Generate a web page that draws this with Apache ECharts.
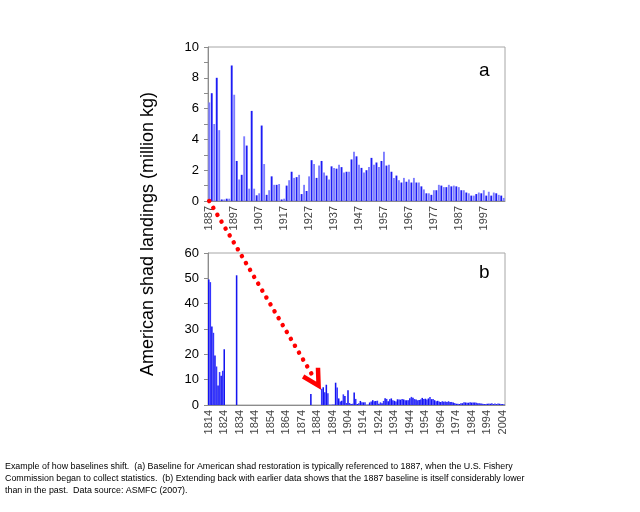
<!DOCTYPE html>
<html>
<head>
<meta charset="utf-8">
<script src="https://cdn.jsdelivr.net/npm/echarts@6/dist/echarts.min.js"></script>
<style>
  html, body { margin: 0; padding: 0; background: #fff; }
  #main { width: 640px; height: 512px; }
</style>
</head>
<body>
<div id="main"></div>
<script>
// landings, million kg, 1887-2005 (panel a, and tail of panel b)
var landings1887 = [
  6.4, 7.0, 5.0, 8.0, 4.6, 0.1, 0.1, 0.15, 0.15, 8.8,
  6.9, 2.6, 1.4, 1.7, 4.2, 3.6, 0.8, 5.85, 0.8, 0.37,
  0.5, 4.9, 2.4, 0.4, 0.7, 1.6, 1.05, 1.05, 1.1, 0.1,
  0.15, 1.0, 1.35, 1.9, 1.5, 1.55, 1.7, 0.45, 1.05, 0.65,
  1.6, 2.65, 2.4, 1.5, 2.3, 2.6, 1.85, 1.65, 1.4, 2.25,
  2.15, 2.1, 2.35, 2.2, 1.85, 1.9, 1.9, 2.7, 3.2, 2.9,
  2.35, 2.15, 1.85, 2.0, 2.2, 2.8, 2.35, 2.5, 2.2, 2.6,
  3.2, 2.3, 2.35, 1.9, 1.5, 1.65, 1.35, 1.2, 1.5, 1.25,
  1.4, 1.2, 1.5, 1.2, 1.2, 0.95, 0.75, 0.5, 0.5, 0.4,
  0.7, 0.7, 1.05, 1.0, 0.9, 0.9, 1.05, 0.95, 1.0, 0.95,
  0.9, 0.7, 0.7, 0.55, 0.5, 0.35, 0.35, 0.45, 0.55, 0.5,
  0.7, 0.35, 0.6, 0.35, 0.55, 0.5, 0.4, 0.35, 0.2
];
// earlier records, 1814-1824
var landings1814 = [49.5, 48.5, 31, 28.5, 19.5, 15.2, 7.7, 13, 11.5, 13.5, 22];
// isolated earlier years
var extraYears = [1832, 1880];
var extraValues = [51.2, 4.35];

var firstA = 1887, firstB = 1814, lastYear = 2005;
var yearsA = [], yearsB = [];
for (var y = firstA; y <= lastYear; y++) yearsA.push(String(y));
for (var y2 = firstB; y2 <= lastYear; y2++) yearsB.push(String(y2));

var seriesB = yearsB.map(function () { return null; });
landings1814.forEach(function (v, i) { seriesB[i] = v; });
extraYears.forEach(function (yr, i) { seriesB[yr - firstB] = extraValues[i]; });
landings1887.forEach(function (v, i) { seriesB[firstA - firstB + i] = v; });

var chart = echarts.init(document.getElementById('main'));

var axisGray = '#8c8c8c';
var labelFont = 'Liberation Sans';

function barColor(p) {
  return p.dataIndex % 2 ? '#1c1cf5' : '#7d7dff';
}

var option = {
  backgroundColor: '#fff',
  animation: false,
  grid: [
    { left: 208, top: 47, width: 297, height: 154, show: true, borderColor: '#a6a6a6', borderWidth: 1 },
    { left: 208, top: 253, width: 297, height: 152, show: true, borderColor: '#a6a6a6', borderWidth: 1 }
  ],
  xAxis: [
    {
      type: 'category', gridIndex: 0, data: yearsA,
      axisLine: { lineStyle: { color: axisGray } },
      axisTick: { alignWithLabel: true, interval: 9, length: 3, lineStyle: { color: axisGray } },
      axisLabel: { interval: 9, rotate: 90, fontSize: 11, color: '#444', fontFamily: labelFont, margin: 5 }
    },
    {
      type: 'category', gridIndex: 1, data: yearsB,
      axisLine: { lineStyle: { color: axisGray } },
      axisTick: { alignWithLabel: true, interval: 9, length: 3, lineStyle: { color: axisGray } },
      axisLabel: { interval: 9, rotate: 90, fontSize: 11, color: '#444', fontFamily: labelFont, margin: 5 }
    }
  ],
  yAxis: [
    {
      type: 'value', gridIndex: 0, min: 0, max: 10, interval: 2,
      axisLine: { show: true, lineStyle: { color: axisGray } },
      axisTick: { show: true, length: 4, lineStyle: { color: axisGray } },
      minorTick: { show: true, splitNumber: 2, length: 4, lineStyle: { color: axisGray } },
      splitLine: { show: false },
      axisLabel: { fontSize: 13, color: '#000', fontFamily: labelFont, margin: 9 }
    },
    {
      type: 'value', gridIndex: 1, min: 0, max: 60, interval: 10,
      axisLine: { show: true, lineStyle: { color: axisGray } },
      axisTick: { show: true, length: 4, lineStyle: { color: axisGray } },
      splitLine: { show: false },
      axisLabel: { fontSize: 13, color: '#000', fontFamily: labelFont, margin: 9 }
    }
  ],
  series: [
    {
      type: 'bar', xAxisIndex: 0, yAxisIndex: 0, data: landings1887,
      barCategoryGap: '25%', itemStyle: { color: barColor }
    },
    {
      type: 'bar', xAxisIndex: 1, yAxisIndex: 1, data: seriesB,
      barCategoryGap: '0%', itemStyle: { color: function (p) { return p.dataIndex % 2 ? '#3434ff' : '#1414f0'; } }
    }
  ]
};

chart.setOption(option);

// red dotted arrow from the 1887 baseline (panel a) down into panel b
var start = chart.convertToPixel({ xAxisIndex: 0, yAxisIndex: 0 }, ['1887', 0]);
var tip = chart.convertToPixel({ xAxisIndex: 1, yAxisIndex: 1 }, ['1885', 7.6]);
var dx = tip[0] - start[0], dy = tip[1] - start[1];
var len = Math.sqrt(dx * dx + dy * dy);
var ux = dx / len, uy = dy / len;
var dotEnd = [tip[0] - ux * 14, tip[1] - uy * 14];
function arm(angle) {
  var c = Math.cos(angle), s = Math.sin(angle);
  var bx = -ux, by = -uy;
  return [tip[0] + 18 * (bx * c - by * s), tip[1] + 18 * (bx * s + by * c)];
}

chart.setOption({
  graphic: [
    {
      type: 'line', z: 100,
      shape: { x1: start[0], y1: start[1], x2: dotEnd[0], y2: dotEnd[1] },
      style: { stroke: '#ff0000', lineWidth: 4.5, lineCap: 'round', lineDash: [0.01, 8] }
    },
    {
      type: 'polyline', z: 100,
      shape: { points: [arm(-0.5), tip, arm(0.5)] },
      style: { stroke: '#ff0000', lineWidth: 4.5, lineJoin: 'miter', fill: null }
    },
    {
      type: 'text', left: 479, top: 61,
      style: { text: 'a', font: '19px Liberation Sans', fill: '#000' }
    },
    {
      type: 'text', left: 479, top: 263,
      style: { text: 'b', font: '19px Liberation Sans', fill: '#000' }
    },
    {
      type: 'text', x: 148, y: 234, rotation: Math.PI / 2,
      style: {
        text: 'American shad landings (million kg)', font: '18px Liberation Sans',
        fill: '#000', align: 'center', verticalAlign: 'middle'
      }
    },
    {
      type: 'text', left: 5, top: 461,
      style: {
        text: 'Example of how baselines shift.  (a) Baseline for American shad restoration is typically referenced to 1887, when the U.S. Fishery\n' +
          'Commission began to collect statistics.  (b) Extending back with earlier data shows that the 1887 baseline is itself considerably lower\n' +
          'than in the past.  Data source: ASMFC (2007).',
        font: '8.9px Liberation Sans', fill: '#000', lineHeight: 12
      }
    }
  ]
});
</script>
</body>
</html>
